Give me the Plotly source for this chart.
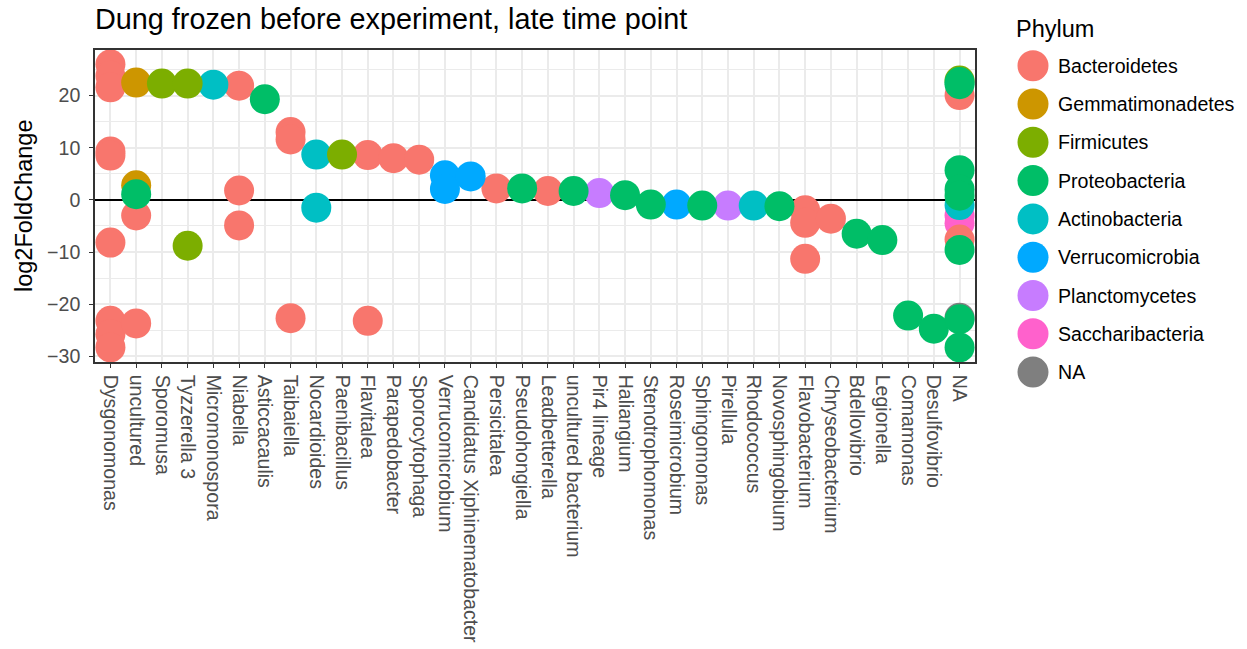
import plotly.graph_objects as go

# Genera in plotting order along the x axis
genera = [
    "Dysgonomonas", "uncultured", "Sporomusa", "Tyzzerella 3", "Micromonospora",
    "Niabella", "Asticcacaulis", "Taibaiella", "Nocardioides", "Paenibacillus",
    "Flavitalea", "Parapedobacter", "Sporocytophaga", "Verrucomicrobium",
    "Candidatus Xiphinematobacter", "Persicitalea", "Pseudohongiella",
    "Leadbetterella", "uncultured bacterium", "Pir4 lineage", "Haliangium",
    "Stenotrophomonas", "Roseimicrobium", "Sphingomonas", "Pirellula",
    "Rhodococcus", "Novosphingobium", "Flavobacterium", "Chryseobacterium",
    "Bdellovibrio", "Legionella", "Comamonas", "Desulfovibrio", "NA",
]

# Phyla in legend order and their colours
phyla = [
    "Bacteroidetes", "Gemmatimonadetes", "Firmicutes", "Proteobacteria",
    "Actinobacteria", "Verrucomicrobia", "Planctomycetes", "Saccharibacteria", "NA",
]
phylum_colors = [
    "#F8766D", "#CD9600", "#7CAE00", "#00BE67",
    "#00BFC4", "#00A9FF", "#C77CFF", "#FF61CC", "#7F7F7F",
]

# One entry per significant ASV: genus, phylum, log2 fold change
asv_genus = [
    "Dysgonomonas", "Dysgonomonas", "Dysgonomonas", "Dysgonomonas", "Dysgonomonas",
    "Dysgonomonas", "Dysgonomonas", "Dysgonomonas", "Dysgonomonas",
    "uncultured", "uncultured", "uncultured", "uncultured", "uncultured",
    "Sporomusa",
    "Tyzzerella 3", "Tyzzerella 3",
    "Micromonospora",
    "Niabella", "Niabella", "Niabella",
    "Asticcacaulis",
    "Taibaiella", "Taibaiella", "Taibaiella",
    "Nocardioides", "Nocardioides",
    "Paenibacillus",
    "Flavitalea", "Flavitalea",
    "Parapedobacter",
    "Sporocytophaga",
    "Verrucomicrobium", "Verrucomicrobium",
    "Candidatus Xiphinematobacter",
    "Persicitalea",
    "Pseudohongiella",
    "Leadbetterella",
    "uncultured bacterium",
    "Pir4 lineage",
    "Haliangium",
    "Stenotrophomonas",
    "Roseimicrobium",
    "Sphingomonas",
    "Pirellula",
    "Rhodococcus",
    "Novosphingobium",
    "Flavobacterium", "Flavobacterium", "Flavobacterium",
    "Chryseobacterium",
    "Bdellovibrio",
    "Legionella",
    "Comamonas",
    "Desulfovibrio",
    "NA", "NA", "NA", "NA", "NA", "NA", "NA", "NA",
    "NA", "NA", "NA", "NA", "NA", "NA", "NA",
]
asv_phylum = [
    "Bacteroidetes", "Bacteroidetes", "Bacteroidetes", "Bacteroidetes", "Bacteroidetes",
    "Bacteroidetes", "Bacteroidetes", "Bacteroidetes", "Bacteroidetes",
    "Gemmatimonadetes", "Gemmatimonadetes", "Proteobacteria", "Bacteroidetes", "Bacteroidetes",
    "Firmicutes",
    "Firmicutes", "Firmicutes",
    "Actinobacteria",
    "Bacteroidetes", "Bacteroidetes", "Bacteroidetes",
    "Proteobacteria",
    "Bacteroidetes", "Bacteroidetes", "Bacteroidetes",
    "Actinobacteria", "Actinobacteria",
    "Firmicutes",
    "Bacteroidetes", "Bacteroidetes",
    "Bacteroidetes",
    "Bacteroidetes",
    "Verrucomicrobia", "Verrucomicrobia",
    "Verrucomicrobia",
    "Bacteroidetes",
    "Proteobacteria",
    "Bacteroidetes",
    "Proteobacteria",
    "Planctomycetes",
    "Proteobacteria",
    "Proteobacteria",
    "Verrucomicrobia",
    "Proteobacteria",
    "Planctomycetes",
    "Actinobacteria",
    "Proteobacteria",
    "Bacteroidetes", "Bacteroidetes", "Bacteroidetes",
    "Bacteroidetes",
    "Proteobacteria",
    "Proteobacteria",
    "Proteobacteria",
    "Proteobacteria",
    "Firmicutes", "Bacteroidetes", "Proteobacteria", "Proteobacteria",
    "Proteobacteria", "Proteobacteria", "Proteobacteria", "Actinobacteria",
    "Saccharibacteria", "Saccharibacteria", "Bacteroidetes", "Proteobacteria",
    "NA", "Proteobacteria", "Proteobacteria",
]
asv_lfc = [
    26.0, 23.8, 21.6, 9.3, 8.5, -8.2, -23.2, -25.8, -28.3,
    22.5, 2.8, 1.1, -3.0, -23.7,
    22.3,
    22.3, -8.8,
    22.1,
    21.9, 1.8, -4.9,
    19.3,
    13.0, 11.6, -22.7,
    8.7, -1.5,
    8.7,
    8.6, -23.2,
    8.0,
    7.7,
    4.7, 2.1,
    4.5,
    2.2,
    2.2,
    1.7,
    1.7,
    1.3,
    0.9,
    -0.9,
    -0.9,
    -1.1,
    -1.1,
    -1.1,
    -1.2,
    -2.0, -4.4, -11.3,
    -3.6,
    -6.5,
    -7.7,
    -22.2,
    -24.7,
    22.9, 20.1, 22.6, 22.2,
    5.7, 2.0, 0.8, -1.0,
    -3.0, -4.5, -7.6, -9.6,
    -22.6, -22.9, -28.3,
]

FONT = "Liberation Sans, Arial, Helvetica, sans-serif"
MARKER_PX = 30

fig = go.Figure()

# Stacking order of the colour groups (last one drawn on top)
draw_order = [
    "NA", "Saccharibacteria", "Planctomycetes", "Bacteroidetes", "Gemmatimonadetes",
    "Actinobacteria", "Firmicutes", "Verrucomicrobia", "Proteobacteria",
]
for ph in draw_order:
    color = phylum_colors[phyla.index(ph)]
    xs = [g for g, p in zip(asv_genus, asv_phylum) if p == ph]
    ys = [v for v, p in zip(asv_lfc, asv_phylum) if p == ph]
    fig.add_trace(go.Scatter(
        x=xs, y=ys, mode="markers", name=ph, showlegend=False,
        marker=dict(size=MARKER_PX, color=color, line=dict(width=0)),
        cliponaxis=True, hoverinfo="x+y+name",
    ))

# Plot area in pixels
W, H = 1247, 649
L, R, T, B = 95, 975, 50, 362


def px_x(px):
    return (px - L) / (R - L)


def px_y(py):
    return (B - py) / (B - T)


shapes = []
annotations = []

# Legend drawn as large filled circles with labels
annotations.append(dict(
    text="Phylum", xref="paper", yref="paper", x=px_x(1014), y=px_y(29),
    xanchor="left", yanchor="middle", showarrow=False,
    font=dict(family=FONT, size=23.5, color="black"),
))
for i, (ph, col) in enumerate(zip(phyla, phylum_colors)):
    cy = 65.7 + 38.3 * i
    shapes.append(dict(
        type="circle", xref="paper", yref="paper",
        xsizemode="pixel", ysizemode="pixel",
        xanchor=px_x(1033), yanchor=px_y(cy),
        x0=-15.5, x1=15.5, y0=-15.5, y1=15.5,
        fillcolor=col, line=dict(width=0), layer="above",
    ))
    annotations.append(dict(
        text=ph, xref="paper", yref="paper", x=px_x(1056), y=px_y(cy),
        xanchor="left", yanchor="middle", showarrow=False,
        font=dict(family=FONT, size=19.6, color="black"),
    ))

# y axis title
annotations.append(dict(
    text="log2FoldChange", xref="paper", yref="paper", x=px_x(24), y=0.5,
    xanchor="center", yanchor="middle", textangle=-90, showarrow=False,
    font=dict(family=FONT, size=23.5, color="black"),
))

fig.update_layout(
    template="none",
    width=W, height=H,
    margin=dict(l=L, r=W - R, t=T, b=H - B, pad=0),
    paper_bgcolor="white", plot_bgcolor="white",
    showlegend=False,
    title=dict(
        text="Dung frozen before experiment, late time point",
        xref="paper", x=0, xanchor="left",
        yref="container", y=1 - 19 / H, yanchor="middle",
        font=dict(family=FONT, size=28.8, color="black"),
    ),
    xaxis=dict(
        type="category", categoryorder="array", categoryarray=genera,
        range=[-0.6, len(genera) - 1 + 0.6],
        tickmode="array", tickvals=genera, ticktext=genera,
        tickangle=90, ticks="outside", ticklen=4, tickwidth=1.2, tickcolor="#333333",
        tickfont=dict(family=FONT, size=19.6, color="#4D4D4D"),
        ticklabelstandoff=3,
        showgrid=True, gridcolor="#EBEBEB", gridwidth=2,
        showline=True, mirror=True, linecolor="#333333", linewidth=1.5,
        zeroline=False, automargin=False, fixedrange=True,
    ),
    yaxis=dict(
        range=[-31.1, 28.75],
        tickmode="array", tickvals=[-30, -20, -10, 0, 10, 20],
        ticktext=["\u221230", "\u221220", "\u221210", "0", "10", "20"],
        ticks="outside", ticklen=4, tickwidth=1.2, tickcolor="#333333",
        tickfont=dict(family=FONT, size=19.6, color="#4D4D4D"),
        ticklabelstandoff=5,
        showgrid=True, gridcolor="#EBEBEB", gridwidth=2,
        minor=dict(tickmode="array", tickvals=[-25, -15, -5, 5, 15, 25],
                   showgrid=True, gridcolor="#EBEBEB", gridwidth=1, ticks=""),
        showline=True, mirror=True, linecolor="#333333", linewidth=1.5,
        zeroline=True, zerolinecolor="black", zerolinewidth=2,
        automargin=False, fixedrange=True,
    ),
    shapes=shapes,
    annotations=annotations,
)

fig.write_html("out.html")
